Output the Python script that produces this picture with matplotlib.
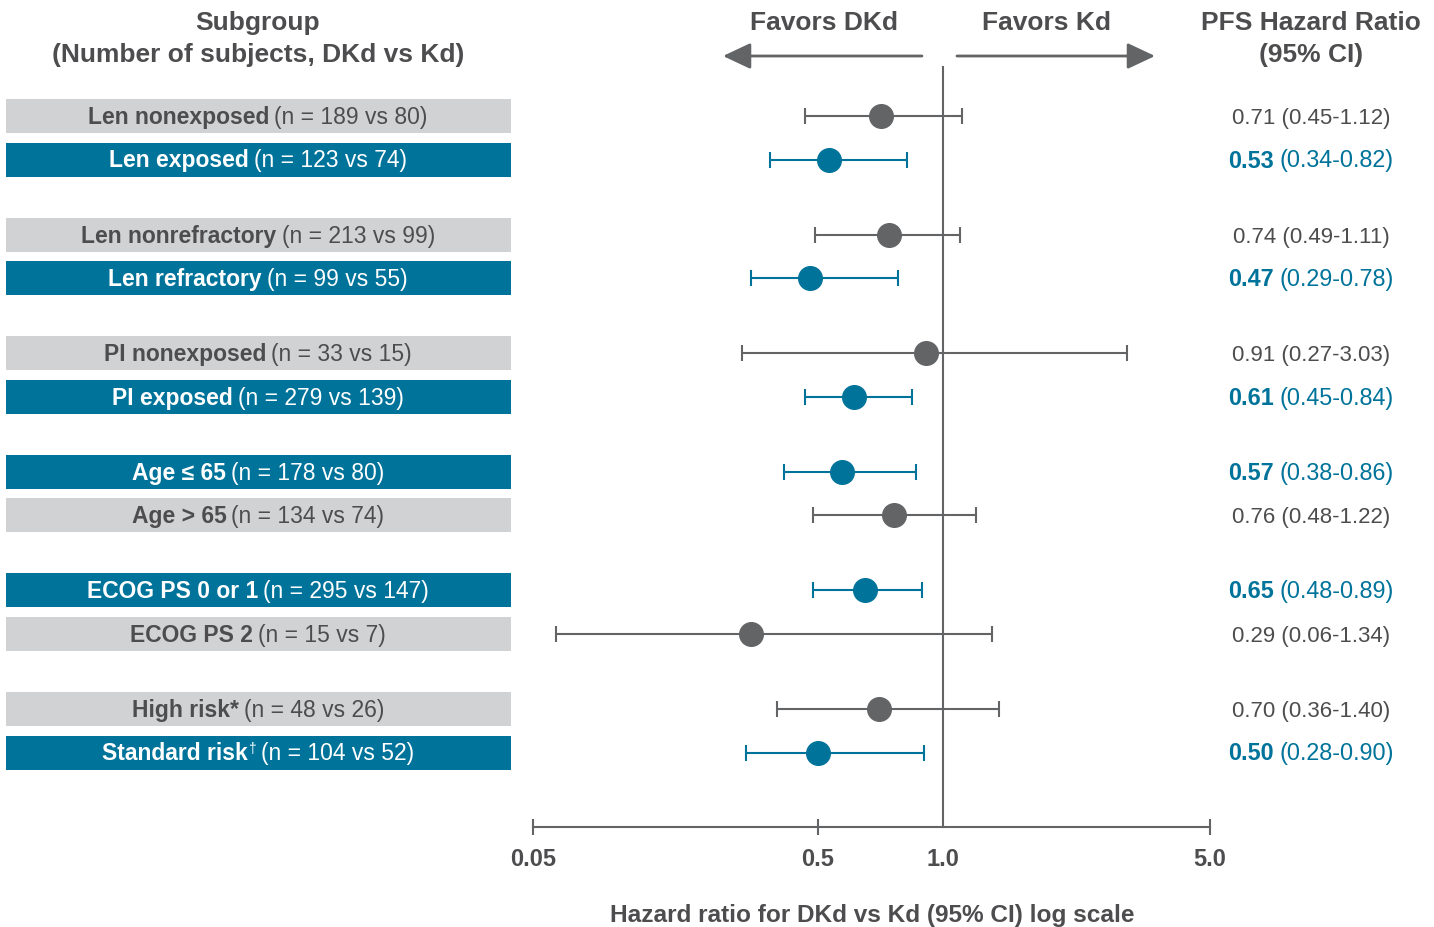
import numpy as np
import matplotlib.pyplot as plt
from matplotlib.patches import Rectangle

# subgroup results, DKd vs Kd
subgroups = ["Len nonexposed", "Len exposed", "Len nonrefractory", "Len refractory",
             "PI nonexposed", "PI exposed", "Age \u2264 65", "Age > 65",
             "ECOG PS 0 or 1", "ECOG PS 2", "High risk*", "Standard risk"]
marks = ["", "", "", "", "", "", "", "", "", "", "", "\u2020"]
n_dkd = [189, 123, 213, 99, 33, 279, 178, 134, 295, 15, 48, 104]
n_kd = [80, 74, 99, 55, 15, 139, 80, 74, 147, 7, 26, 52]
hr = [0.71, 0.53, 0.74, 0.47, 0.91, 0.61, 0.57, 0.76, 0.65, 0.29, 0.70, 0.50]
ci_low = [0.45, 0.34, 0.49, 0.29, 0.27, 0.45, 0.38, 0.48, 0.48, 0.06, 0.36, 0.28]
ci_high = [1.12, 0.82, 1.11, 0.78, 3.03, 0.84, 0.86, 1.22, 0.89, 1.34, 1.40, 0.90]
highlight = [False, True, False, True, False, True, True, False, True, False, False, True]

tick_vals = [0.05, 0.5, 1.0, 5.0]
tick_labels = ["0.05", "0.5", "1.0", "5.0"]

TEAL = "#00739a"
GREY_BOX = "#d1d2d4"
GREY_MARK = "#636466"
TEXT = "#4d4d4f"

W, H = 1434, 928
plt.rcParams['font.family'] = ['Liberation Sans', 'DejaVu Sans']

fig = plt.figure(figsize=(W / 100, H / 100), dpi=100)
bg = fig.add_axes([0, 0, 1, 1])
bg.set_xlim(0, W)
bg.set_ylim(H, 0)
bg.axis('off')
renderer = fig.canvas.get_renderer()


def put_parts(cx, y, parts, size, color):
    # parts: (text, weight, scale, rise, gap before); centred as one line
    texts, widths = [], []
    for s, weight, scale, rise, gap in parts:
        t = bg.text(0, y - rise, s, fontsize=size * scale, fontweight=weight,
                    color=color, ha='left', va='baseline')
        texts.append(t)
        widths.append(t.get_window_extent(renderer).width + gap)
    x = cx - sum(widths) / 2
    for t, w, p in zip(texts, widths, parts):
        t.set_x(x + p[4])
        x += w


# row layout: pairs of rows, groups spaced apart
rows = [117 + (i // 2) * 118.6 + (i % 2) * 43.5 for i in range(len(hr))]

# headers
head = dict(ha='center', va='center', fontsize=19, fontweight='bold', color=TEXT)
bg.text(258, 23, "Subgroup", **head)
bg.text(258, 55, "(Number of subjects, DKd vs Kd)", **head)
bg.text(824, 23, "Favors DKd", **head)
bg.text(1047, 23, "Favors Kd", **head)
bg.text(1311, 23, "PFS Hazard Ratio", **head)
bg.text(1311, 55, "(95% CI)", **head)

arrow = dict(arrowstyle='-|>,head_length=0.85,head_width=0.4', mutation_scale=20,
             lw=2, color=GREY_MARK, shrinkA=0, shrinkB=0)
bg.annotate("", xy=(723, 57), xytext=(922, 57), arrowprops=arrow)
bg.annotate("", xy=(1155, 57), xytext=(957, 57), arrowprops=arrow)

# left labels in coloured bands, right HR column
for i, y in enumerate(rows):
    hl = highlight[i]
    bg.add_patch(Rectangle((6, y - 17), 505, 34, color=TEAL if hl else GREY_BOX, lw=0))
    col = "white" if hl else TEXT
    parts = [(subgroups[i], 'bold', 1.0, 0, 0)]
    if marks[i]:
        parts.append((marks[i], 'normal', 0.6, 7, 1))
    parts.append((f"(n = {n_dkd[i]} vs {n_kd[i]})", 'normal', 1.0, 0, 5))
    put_parts(258, y + 7, parts, 16.5, col)

    ci = f"({ci_low[i]:.2f}-{ci_high[i]:.2f})"
    if hl:
        put_parts(1311, y + 7, [(f"{hr[i]:.2f}", 'bold', 1.0, 0, 0),
                                (ci, 'normal', 1.0, 0, 6)], 16.8, TEAL)
    else:
        put_parts(1311, y + 7, [(f"{hr[i]:.2f} {ci}", 'normal', 1.0, 0, 0)], 16, TEXT)

bg.text(872, 916, "Hazard ratio for DKd vs Kd (95% CI) log scale", ha='center',
        va='center', fontsize=17.6, fontweight='bold', color=TEXT)

# forest plot: log axis, stretched piecewise between the labelled ticks
tick_px = [533, 818, 943, 1210]


def fwd(x):
    return np.interp(np.log10(np.maximum(x, 1e-12)), np.log10(tick_vals), tick_px)


def inv(p):
    return 10 ** np.interp(p, tick_px, np.log10(tick_vals))


ax = fig.add_axes([533 / W, 0, (1210 - 533) / W, 1])
ax.set_facecolor('none')
ax.set_xscale('function', functions=(fwd, inv))
ax.set_xlim(0.05, 5.0)
ax.set_ylim(H, 0)
for side in ['top', 'left', 'right']:
    ax.spines[side].set_visible(False)
ax.spines['bottom'].set_position(('data', 828))
ax.spines['bottom'].set_color(GREY_MARK)
ax.spines['bottom'].set_linewidth(1.5)
ax.set_yticks([])
ax.set_xticks(tick_vals, tick_labels)
ax.xaxis.set_minor_locator(plt.NullLocator())
ax.tick_params(axis='x', direction='inout', length=11.5, width=1.5, color=GREY_MARK,
               labelsize=17, labelcolor=TEXT, pad=8.5)
for lab in ax.get_xticklabels():
    lab.set_fontweight('bold')
ax.xaxis.get_major_ticks()[2].tick1line.set_visible(False)

ax.plot([1.0, 1.0], [68, 828], color=GREY_MARK, lw=1.5)

for i, y in enumerate(rows):
    c = TEAL if highlight[i] else GREY_MARK
    ax.errorbar(hr[i], y, xerr=[[hr[i] - ci_low[i]], [ci_high[i] - hr[i]]],
                fmt='o', color=c, ms=17, lw=1.5, capsize=6, capthick=1.5,
                clip_on=False, zorder=3)

fig.savefig("out.png", dpi=100)
